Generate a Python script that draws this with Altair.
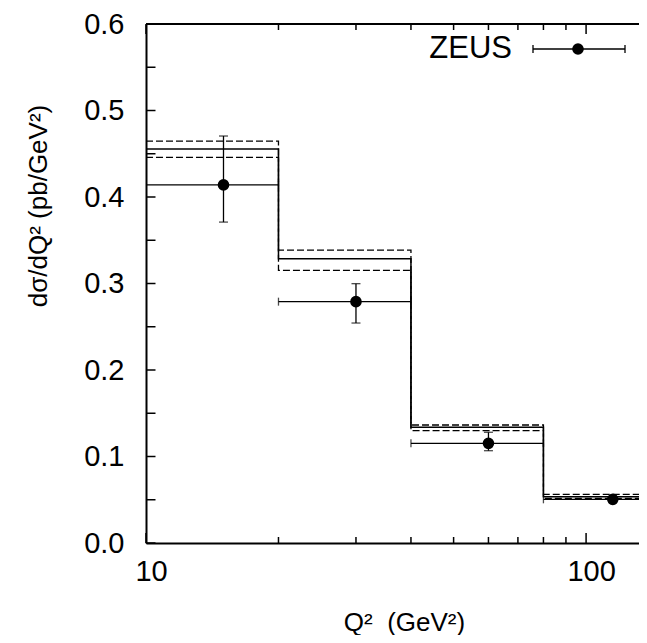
import altair as alt
import pandas as pd

# ---- data ----
edges = [10, 20, 40, 80, 150]
theory = [0.4555, 0.3287, 0.1337, 0.0535]
theory_up = [0.4647, 0.3387, 0.1364, 0.0563]
theory_dn = [0.4459, 0.3152, 0.1298, 0.0515]

q2 = [15, 30, 60, 115]
xsec = [0.414, 0.279, 0.1152, 0.0505]
xsec_hi = [0.4705, 0.2998, 0.128, 0.0535]
xsec_lo = [0.371, 0.2543, 0.1067, 0.0475]
bin_lo = [10, 20, 40, 80]
bin_hi = [20, 40, 80, 150]

y_major = [0.0, 0.1, 0.2, 0.3, 0.4, 0.5, 0.6]
y_minor = [0.05, 0.15, 0.25, 0.35, 0.45, 0.55]
x_major = [10, 100]
x_minor = [20, 30, 40, 50, 60, 70, 80, 90]

W, H = 493, 519
FONT = "Liberation Sans"

xscale = alt.Scale(type="log", domain=[10, 131.9])
yscale = alt.Scale(domain=[0, 0.6], nice=False, zero=False)

xaxis = alt.Axis(values=x_major, format="d", ticks=False, grid=False,
                 domainWidth=2, domainColor="black", labelFontSize=29,
                 labelFont=FONT, labelColor="black", labelPadding=14,
                 labelOffset=5, labelFlush=False,
                 title="Q²\u00a0\u00a0(GeV²)", titleFont=FONT, titleFontSize=26,
                 titleFontWeight="normal", titleColor="black",
                 titleX=258, titleY=87, titleBaseline="alphabetic",
                 titleAlign="center")
yaxis = alt.Axis(values=y_major, format=".1f", ticks=False, grid=False,
                 domainWidth=2, domainColor="black", labelFontSize=29,
                 labelFont=FONT, labelColor="black", labelPadding=22,
                 labelFlush=False,
                 title="dσ/dQ² (pb/GeV²)", titleFont=FONT, titleFontSize=26,
                 titleFontWeight="normal", titleColor="black",
                 titleX=-108, titleY=181.5, titleAngle=270,
                 titleBaseline="middle", titleAlign="center")


def X(f):
    return alt.X(f, type="quantitative", scale=xscale, axis=xaxis)


def Y(f):
    return alt.Y(f, type="quantitative", scale=yscale, axis=yaxis)


def step_df(vals):
    return pd.DataFrame({"x": edges, "y": vals + [vals[-1]]})


central = alt.Chart(step_df(theory)).mark_line(
    interpolate="step-after", color="black", strokeWidth=1.5, clip=True
).encode(x=X("x"), y=Y("y"))
upper = alt.Chart(step_df(theory_up)).mark_line(
    interpolate="step-after", color="black", strokeWidth=1.3,
    strokeDash=[7, 3], clip=True
).encode(x=X("x"), y=Y("y"))
lower = alt.Chart(step_df(theory_dn)).mark_line(
    interpolate="step-after", color="black", strokeWidth=1.3,
    strokeDash=[7, 3], clip=True
).encode(x=X("x"), y=Y("y"))

pts = pd.DataFrame({"q2": q2, "xs": xsec, "hi": xsec_hi, "lo": xsec_lo,
                    "blo": bin_lo, "bhi": bin_hi})
base = alt.Chart(pts)
vbar = base.mark_rule(color="black", strokeWidth=1.3, clip=True).encode(
    x=X("q2"), y=Y("lo"), y2="hi")
vcap_hi = base.mark_tick(orient="horizontal", size=9, thickness=1.3,
                         color="black", clip=True).encode(x=X("q2"), y=Y("hi"))
vcap_lo = base.mark_tick(orient="horizontal", size=9, thickness=1.3,
                         color="black", clip=True).encode(x=X("q2"), y=Y("lo"))
hbar = base.mark_rule(color="black", strokeWidth=1.3, clip=True).encode(
    x=X("blo"), x2="bhi", y=Y("xs"))
hcap_lo = base.mark_tick(orient="vertical", size=8, thickness=1.3,
                         color="black", clip=True).encode(x=X("blo"), y=Y("xs"))
hcap_hi = base.mark_tick(orient="vertical", size=8, thickness=1.3,
                         color="black", clip=True).encode(x=X("bhi"), y=Y("xs"))
dots = base.mark_point(filled=True, shape="circle", size=135, color="black",
                       opacity=1, clip=True).encode(x=X("q2"), y=Y("xs"))

# ---- inward ticks and top frame ----
yt = pd.DataFrame({"v": y_major + y_minor})
yticks = alt.Chart(yt).mark_rule(color="black", strokeWidth=1.5).encode(
    y=Y("v"), x=alt.value(0), x2=alt.value(9.5))
xmaj = pd.DataFrame({"v": x_major})
xmin_ = pd.DataFrame({"v": x_minor})
xt_maj_b = alt.Chart(xmaj).mark_rule(color="black", strokeWidth=1.5).encode(
    x=X("v"), y=alt.value(H), y2=alt.value(H - 10))
xt_maj_t = alt.Chart(xmaj).mark_rule(color="black", strokeWidth=1.5).encode(
    x=X("v"), y=alt.value(0), y2=alt.value(10))
xt_min_b = alt.Chart(xmin_).mark_rule(color="black", strokeWidth=1.5).encode(
    x=X("v"), y=alt.value(H), y2=alt.value(H - 6))
xt_min_t = alt.Chart(xmin_).mark_rule(color="black", strokeWidth=1.5).encode(
    x=X("v"), y=alt.value(0), y2=alt.value(6))
one = pd.DataFrame({"a": [0]})
topframe = alt.Chart(one).mark_rule(color="black", strokeWidth=2).encode(
    x=alt.value(0), x2=alt.value(W), y=alt.value(0))

# ---- legend ----
leg_text = alt.Chart(one).mark_text(align="right", baseline="middle",
                                    fontSize=31, font=FONT, color="black").encode(
    x=alt.value(366), y=alt.value(25), text=alt.value("ZEUS"))
leg_line = alt.Chart(one).mark_rule(color="black", strokeWidth=1.3).encode(
    x=alt.value(387), x2=alt.value(479), y=alt.value(25))
leg_cap1 = alt.Chart(one).mark_rule(color="black", strokeWidth=1.3).encode(
    x=alt.value(387), y=alt.value(21), y2=alt.value(29))
leg_cap2 = alt.Chart(one).mark_rule(color="black", strokeWidth=1.3).encode(
    x=alt.value(479), y=alt.value(21), y2=alt.value(29))
leg_dot = alt.Chart(one).mark_point(filled=True, shape="circle", size=135,
                                    color="black", opacity=1).encode(
    x=alt.value(432), y=alt.value(25))

chart = alt.layer(
    central, upper, lower, hbar, hcap_lo, hcap_hi, vbar, vcap_hi, vcap_lo, dots,
    yticks, xt_maj_b, xt_maj_t, xt_min_b, xt_min_t, topframe,
    leg_text, leg_line, leg_cap1, leg_cap2, leg_dot
).properties(
    width=W, height=H,
    autosize=alt.AutoSizeParams(type="none"),
    padding={"left": 138, "top": 16, "right": 0, "bottom": 92},
).configure_view(stroke=None).configure(background="white")

chart.save("out.html", embed_options={"renderer": "svg", "actions": False})
